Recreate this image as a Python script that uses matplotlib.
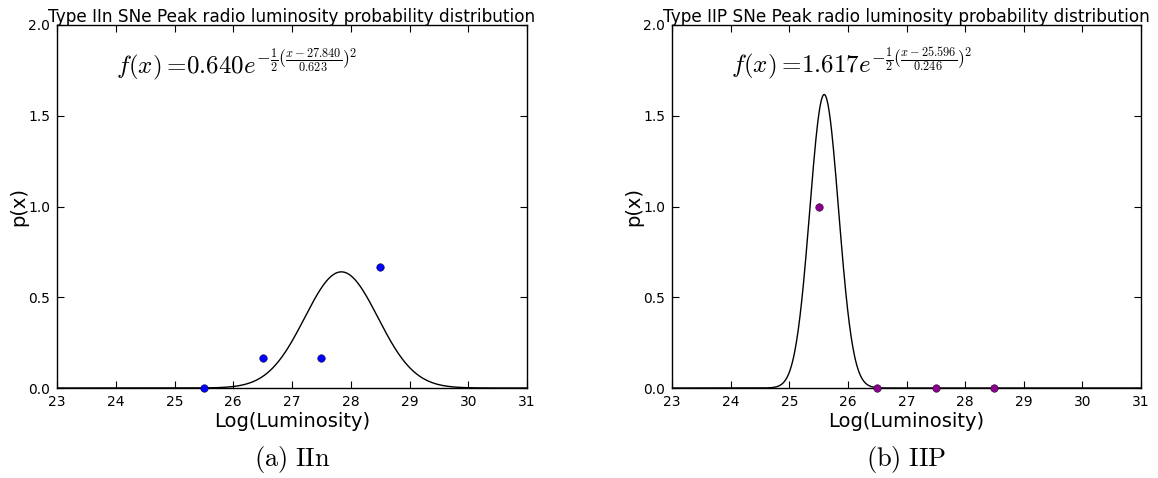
import numpy as np
import matplotlib
matplotlib.use("Agg")
import matplotlib.pyplot as plt

# ================= Data =================
bins = [25.5, 26.5, 27.5, 28.5]
p_iin = [0.0, 1 / 6, 1 / 6, 4 / 6]
p_iip = [1.0, 0.0, 0.0, 0.0]

# gaussian fit parameters (amplitude, mean, sigma) as printed on the chart
fit_iin = (0.640, 27.840, 0.623)
fit_iip = (1.617, 25.596, 0.246)

titles = ["Type IIn SNe Peak radio luminosity probability distribution",
          "Type IIP SNe Peak radio luminosity probability distribution"]
captions = [r"$\mathrm{(a)\ IIn}$", r"$\mathrm{(b)\ IIP}$"]
colors = ["#0000ff", "#8b008b"]

plt.rcParams["mathtext.fontset"] = "cm"
plt.rcParams["font.family"] = "DejaVu Sans"

fig = plt.figure(figsize=(11.58, 4.78), dpi=100)
fig.patch.set_facecolor("white")

positions = [[57 / 1158, 90 / 478, 470 / 1158, 363 / 478],
             [672 / 1158, 90 / 478, 469 / 1158, 363 / 478]]

for k, (p, fit) in enumerate([(p_iin, fit_iin), (p_iip, fit_iip)]):
    ax = fig.add_axes(positions[k])
    a, mu, sig = fit
    xs = np.linspace(23, 31, 800)
    ax.plot(xs, a * np.exp(-0.5 * ((xs - mu) / sig) ** 2), color="black", lw=1.0)
    ax.plot(bins, p, "o", color=colors[k], markersize=5.5, markeredgewidth=0.3,
            markeredgecolor="black", clip_on=False, zorder=3)

    ax.set_xlim(23, 31)
    ax.set_ylim(0, 2.0)
    ax.set_xticks(range(23, 32))
    ax.set_yticks([0.0, 0.5, 1.0, 1.5, 2.0])
    ax.set_yticklabels(["0.0", "0.5", "1.0", "1.5", "2.0"])
    ax.tick_params(direction="in", top=True, right=True, length=5, labelsize=10, pad=5)
    for s in ax.spines.values():
        s.set_linewidth(1.0)

    ax.set_xlabel("Log(Luminosity)", fontsize=14, labelpad=2)
    ax.set_ylabel("p(x)", fontsize=14, labelpad=0)
    ax.set_title(titles[k], fontsize=12.2, pad=2)

    txt = r"$f(x)=\!%.3fe^{-\frac{1}{2}(\frac{x-%.3f}{%.3f})^2}$" % (a, mu, sig)
    ax.text(24.0, 1.78, txt, fontsize=18, va="center", ha="left")

    ax.text(0.5, -0.198, captions[k], transform=ax.transAxes, fontsize=19,
            ha="center", va="center")

fig.savefig("out.png", dpi=100, facecolor="white")
